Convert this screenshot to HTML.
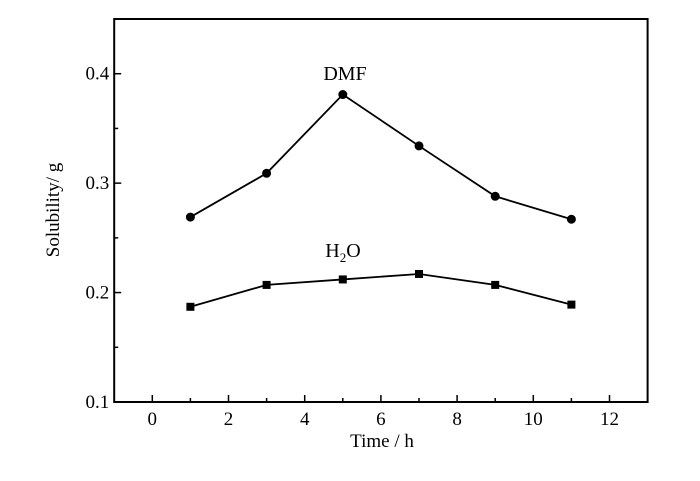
<!DOCTYPE html>
<html><head><meta charset="utf-8"><style>
html,body{margin:0;padding:0;background:#fff;}
svg{display:block;font-family:"Liberation Serif",serif;}
</style></head><body>
<svg id="chart" width="700" height="481"></svg>
<script>
const xCats=[1,3,5,7,9,11];
const dmfValues=[0.269,0.309,0.381,0.334,0.288,0.267];
const h2oValues=[0.187,0.207,0.212,0.217,0.207,0.189];
const xTicks=[0,2,4,6,8,10,12];
const yTicks=[0.1,0.2,0.3,0.4];
const yTickLabels=["0.1","0.2","0.3","0.4"];
const NS="http://www.w3.org/2000/svg";
const svg=document.getElementById('chart');
const L=114.2,R=647.6,T=19,B=402;
const xmin=-1,xmax=13,ymin=0.1,ymax=0.45;
function X(v){return L+(v-xmin)/(xmax-xmin)*(R-L);}
function Y(v){return B-(v-ymin)/(ymax-ymin)*(B-T);}
function mk(tag,attrs,parent){const e=document.createElementNS(NS,tag);for(const k in attrs)e.setAttribute(k,attrs[k]);(parent||svg).appendChild(e);return e;}
const frame=mk('rect',{x:L,y:T,width:R-L,height:B-T,fill:'none',stroke:'#000','stroke-width':2});


for(let v=0;v<=12;v++){
  const len=v%2===0?7:4;
  const t=mk('line',{x1:X(v),x2:X(v),y1:B,y2:B-len,stroke:'#000','stroke-width':1.5});
  
  
}
xTicks.forEach(v=>{
  const t=mk('text',{x:X(v),y:B+23,'font-size':19,'text-anchor':'middle'});
  t.textContent=v;
  
  
});
for(let v=0.1;v<=0.451;v+=0.05){
  const major=Math.abs(v*10-Math.round(v*10))<1e-6;
  const t=mk('line',{x1:L,x2:L+(major?7:4),y1:Y(v),y2:Y(v),stroke:'#000','stroke-width':1.5});
  
  
}
yTicks.forEach((v,i)=>{
  const t=mk('text',{x:L-5,y:Y(v)+6,'font-size':19,'text-anchor':'end'});
  t.textContent=yTickLabels[i];
  
  
});
const xt=mk('text',{x:382,y:447,'font-size':19,'text-anchor':'middle'});
xt.textContent='Time / h';


const yt=mk('text',{x:0,y:0,'font-size':19,'text-anchor':'middle',transform:'translate(59,210) rotate(-90)'});
yt.textContent='Solubility/ g';


function series(vals,name,shape){
  const pts=xCats.map((c,i)=>X(c)+','+Y(vals[i])).join(' ');
  const pl=mk('polyline',{points:pts,fill:'none',stroke:'#000','stroke-width':1.8});
  
  
  xCats.forEach((c,i)=>{
    let m;
    if(shape==='circle')m=mk('circle',{cx:X(c),cy:Y(vals[i]),r:4.5,fill:'#000'});
    else m=mk('rect',{x:X(c)-4,y:Y(vals[i])-4,width:8,height:8,fill:'#000'});
    
    
  });
}
series(dmfValues,'dmf','circle');
series(h2oValues,'h2o','square');
const l1=mk('text',{x:345,y:80,'font-size':20,'text-anchor':'middle'});
l1.textContent='DMF';


const l2=mk('text',{x:343,y:257,'font-size':20,'text-anchor':'middle'});
l2.innerHTML='H<tspan font-size="13" dy="5">2</tspan><tspan dy="-5">O</tspan>';


</script>
</body></html>
